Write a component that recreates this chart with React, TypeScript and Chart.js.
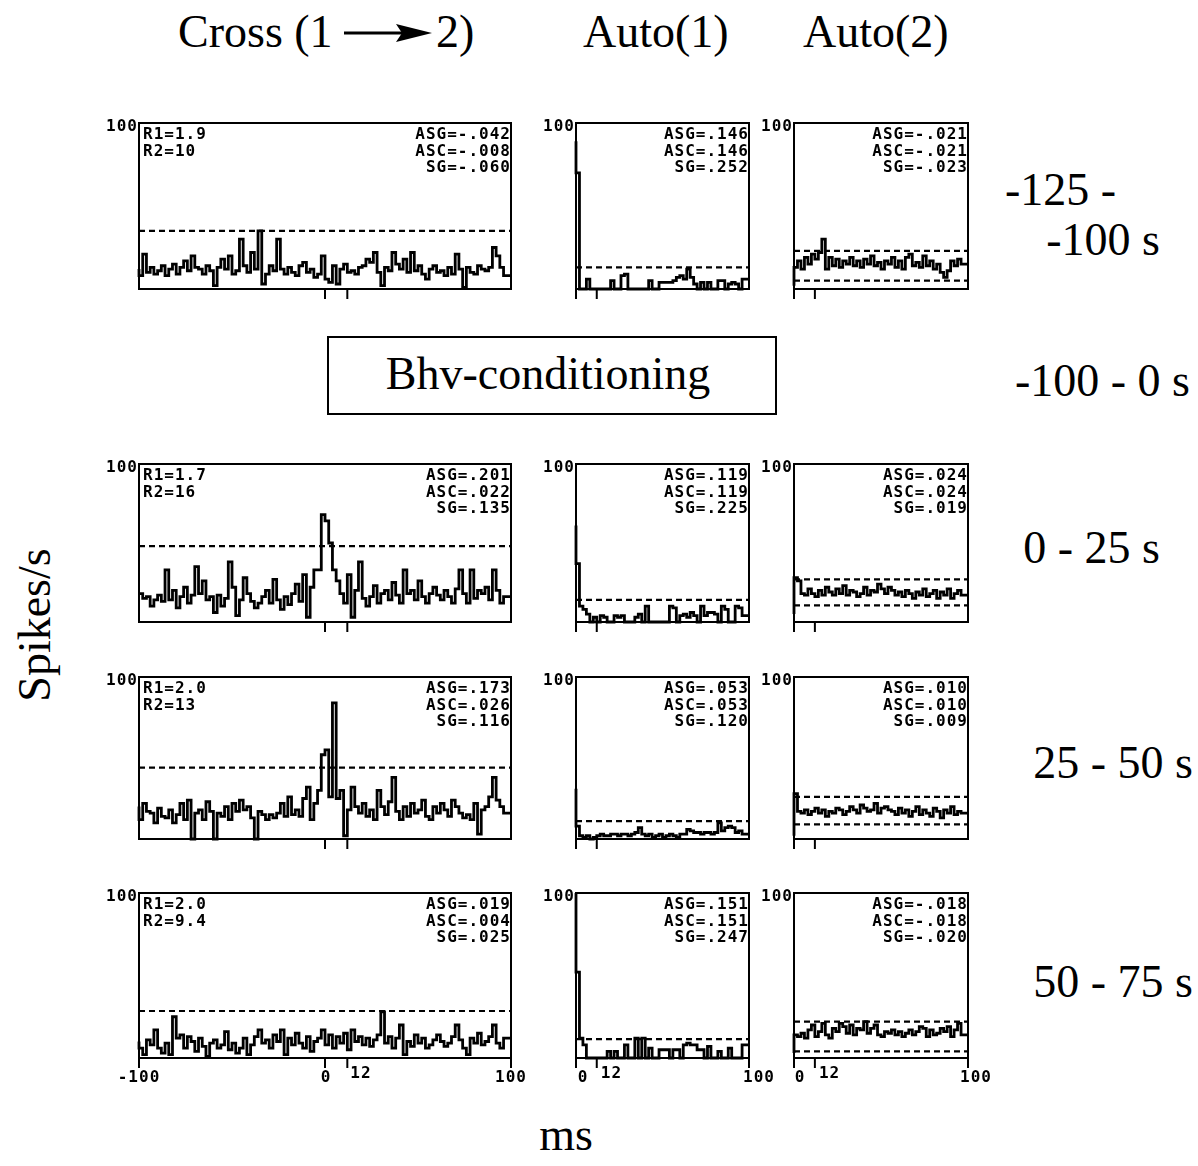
import React, { useEffect, useRef } from 'react';
import { Chart, registerables } from 'chart.js';
Chart.register(...registerables);

// ---------- data ----------
const crossX = [-100, 100];
const autoX = [0, 100];

const cross1 = [
  12, 8, 21, 10, 13, 9, 11, 14, 8, 12,
  15, 9, 13, 17, 11, 20, 13, 12, 9, 14,
  11, 2, 13, 18, 12, 20, 9, 11, 30, 14,
  10, 22, 12, 35, 3, 9, 14, 11, 30, 12,
  9, 13, 10, 8, 14, 16, 10, 12, 7, 9,
  20, 6, 4, 14, 3, 12, 15, 10, 11, 9,
  13, 14, 18, 16, 22, 10, 2, 13, 11, 22,
  15, 12, 18, 10, 22, 11, 14, 9, 6, 12,
  14, 10, 11, 8, 13, 9, 21, 12, 1, 13,
  10, 9, 14, 12, 11, 13, 25, 20, 13, 8,
];
const cross2 = [
  18, 18, 15, 16, 10, 14, 17, 13, 33, 14,
  20, 9, 16, 22, 12, 17, 35, 18, 26, 14,
  16, 6, 17, 10, 15, 38, 22, 4, 14, 28,
  18, 13, 9, 12, 16, 20, 12, 27, 14, 8,
  16, 11, 18, 24, 13, 30, 3, 22, 33, 33,
  68, 64, 50, 33, 26, 18, 12, 30, 3, 20,
  38, 15, 10, 16, 23, 12, 18, 20, 14, 25,
  17, 12, 33, 18, 20, 14, 26, 16, 12, 18,
  22, 17, 14, 20, 16, 12, 21, 33, 18, 12,
  33, 15, 20, 18, 22, 14, 33, 20, 12, 16,
];
const cross3 = [
  20, 12, 22, 17, 16, 10, 19, 14, 13, 18,
  10, 15, 22, 12, 24, 0, 16, 18, 12, 23,
  17, 0, 16, 14, 20, 12, 22, 17, 24, 18,
  20, 13, 0, 17, 15, 12, 15, 13, 16, 22,
  14, 26, 15, 18, 14, 25, 32, 12, 22, 30,
  52, 55, 26, 84, 25, 30, 2, 18, 32, 20,
  16, 22, 14, 18, 12, 30, 20, 15, 23, 38,
  17, 12, 20, 14, 22, 16, 18, 24, 14, 12,
  20, 16, 22, 18, 14, 24, 20, 16, 13, 15,
  12, 22, 3, 18, 20, 26, 38, 24, 20, 16,
];
const cross4 = [
  10, 6, 2, 11, 8, 17, 6, 3, 9, 2,
  25, 12, 14, 6, 13, 10, 4, 12, 7, 1,
  9, 11, 6, 8, 16, 5, 9, 3, 6, 12,
  2, 8, 13, 17, 9, 11, 6, 14, 10, 17,
  2, 12, 8, 15, 9, 6, 13, 4, 10, 12,
  17, 8, 14, 6, 13, 9, 15, 5, 17, 10,
  13, 8, 12, 7, 11, 14, 28, 9, 13, 6,
  12, 20, 2, 10, 7, 14, 9, 12, 6, 8,
  11, 14, 10, 7, 9, 13, 20, 11, 6, 2,
  12, 9, 15, 8, 10, 13, 20, 9, 6, 12,
];

const auto1r1 = [
  89, 70, 0, 0, 6, 0, 0, 0, 0, 0,
  0, 5, 0, 0, 8, 9, 0, 0, 0, 0,
  0, 0, 5, 0, 0, 4, 4, 4, 4, 5,
  7, 8, 6, 12, 7, 3, 0, 4, 0, 4,
  0, 0, 5, 5, 0, 3, 4, 3, 0, 6,
];
const auto1r2 = [
  61, 37, 10, 8, 5, 0, 3, 0, 4, 3,
  0, 0, 4, 3, 4, 0, 0, 0, 3, 5,
  0, 10, 0, 0, 0, 0, 0, 0, 10, 9,
  0, 4, 5, 3, 6, 4, 0, 10, 4, 6,
  6, 5, 0, 10, 8, 0, 0, 10, 9, 4,
];
const auto1r3 = [
  31, 8, 2, 1, 2, 0, 1, 2, 3, 2,
  2, 3, 3, 2, 3, 3, 2, 3, 4, 7,
  3, 2, 3, 1, 2, 3, 1, 2, 3, 2,
  1, 3, 3, 6, 5, 4, 4, 3, 4, 4,
  3, 4, 10, 5, 7, 8, 7, 4, 5, 3,
];
const auto1r4 = [
  100, 52, 12, 8, 0, 0, 0, 0, 0, 0,
  4, 0, 4, 0, 0, 8, 0, 0, 12, 0,
  12, 0, 6, 0, 0, 5, 5, 5, 0, 5,
  5, 0, 8, 9, 8, 8, 5, 5, 0, 7,
  0, 0, 4, 0, 0, 6, 0, 0, 0, 8,
];

const auto2r1 = [
  2, 13, 17, 12, 19, 15, 21, 18, 22, 30,
  12, 19, 14, 18, 13, 17, 15, 19, 14, 17,
  13, 18, 15, 20, 14, 16, 12, 17, 15, 19,
  13, 17, 12, 19, 21, 14, 16, 13, 20, 14,
  17, 12, 15, 10, 7, 11, 17, 14, 18, 15,
];
const auto2r2 = [
  5, 28, 26, 18, 17, 21, 18, 16, 20, 17,
  22, 19, 17, 21, 18, 23, 17, 20, 19, 16,
  18, 22, 17, 20, 19, 24, 21, 18, 22, 20,
  17, 19, 16, 20, 18, 15, 19, 17, 21, 16,
  18, 20, 15, 19, 17, 21, 15, 18, 20, 17,
];
const auto2r3 = [
  2, 28, 17, 16, 18, 15, 17, 19, 16, 18,
  14, 17, 16, 19, 18, 15, 17, 20, 18, 16,
  21, 19, 17, 18, 22, 16, 19, 20, 18, 17,
  15, 19, 16, 18, 14, 17, 20, 15, 18, 16,
  14, 19, 17, 13, 18, 16, 20, 15, 17, 16,
];
const auto2r4 = [
  3, 14, 13, 15, 12, 17, 20, 13, 16, 21,
  14, 12, 18, 16, 21, 19, 15, 20, 14, 18,
  17, 22, 15, 18, 20, 14, 13, 16, 15, 17,
  14, 16, 13, 15, 17, 14, 16, 19, 18, 13,
  17, 14, 15, 18, 16, 19, 13, 17, 21, 14,
];

const crossSig = [35, 48, 44, 28.5];
const auto1Sig = [13, 14, 11, 11.5];
const auto2Hi = [23, 27, 26, 22];
const auto2Lo = [5, 10.5, 9, 4];

const crossR1 = ['1.9', '1.7', '2.0', '2.0'];
const crossR2 = ['10', '16', '13', '9.4'];
const crossASG = ['-.042', '.201', '.173', '.019'];
const crossASC = ['-.008', '.022', '.026', '.004'];
const crossSG = ['-.060', '.135', '.116', '.025'];
const auto1ASG = ['.146', '.119', '.053', '.151'];
const auto1ASC = ['.146', '.119', '.053', '.151'];
const auto1SG = ['.252', '.225', '.120', '.247'];
const auto2ASG = ['-.021', '.024', '.010', '-.018'];
const auto2ASC = ['-.021', '.024', '.010', '-.018'];
const auto2SG = ['-.023', '.019', '.009', '-.020'];

const crossTicks = [0, 12];
const crossTicksBottom = [-100, 0, 12, 100];
const autoTicks = [0, 12];
const autoTicksBottom = [0, 12, 100];

const yMaxLabel = '100';
const periodLabels = ['-125 -', '-100 s', '-100 - 0 s', '0 - 25 s', '25 - 50 s', '50 - 75 s'];

// ---------- layout ----------
const rowTop = [123, 464, 677, 893];
const rowH = [166, 158, 162, 165];
const colLeft = [139, 576, 794];
const colW = [372, 173, 174];

const PL = 45, PR = 40, PT = 10, PB = 36;
const MONO = "bold 16px 'DejaVu Sans Mono', 'Liberation Mono', monospace";
const SERIF = "'Liberation Serif', 'Times New Roman', serif";

type TickLabel = { v: number; text: string; dx: number; dy: number; align: CanvasTextAlign };

type PanelProps = {
  left: number; top: number; width: number; height: number;
  xRange: number[];
  values: number[];
  sig: number[];
  leftText: string[];
  rightText: string[];
  ticks: number[];
  tickLabels: TickLabel[];
};

function Panel(p: PanelProps) {
  const ref = useRef<HTMLCanvasElement>(null);
  const cw = p.width + PL + PR;
  const ch = p.height + PT + PB;
  useEffect(() => {
    const [xMin, xMax] = p.xRange;
    const binW = (xMax - xMin) / p.values.length;
    const hist = p.values.map((v, i) => ({ x: xMin + i * binW, y: v }));
    hist.push({ x: xMax, y: p.values[p.values.length - 1] });
    const datasets: any[] = [
      {
        data: hist, stepped: 'after', borderColor: '#000', borderWidth: 2.8,
        pointRadius: 0, fill: false, clip: 2,
      },
      ...p.sig.map((s) => ({
        data: [{ x: xMin, y: s }, { x: xMax, y: s }],
        borderColor: '#000', borderWidth: 2.2, borderDash: [6, 4], pointRadius: 0, fill: false,
      })),
    ];
    const deco = {
      id: 'deco',
      afterDraw(chart: any) {
        const ctx: CanvasRenderingContext2D = chart.ctx;
        const a = chart.chartArea;
        const xs = chart.scales.x;
        ctx.save();
        ctx.strokeStyle = '#000';
        ctx.lineWidth = 2;
        ctx.strokeRect(a.left, a.top, a.right - a.left, a.bottom - a.top);
        p.ticks.forEach((t) => {
          const x = xs.getPixelForValue(t);
          ctx.beginPath();
          ctx.moveTo(x, a.bottom);
          ctx.lineTo(x, a.bottom + 10);
          ctx.stroke();
        });
        ctx.fillStyle = '#000';
        ctx.font = MONO;
        (ctx as any).letterSpacing = '1px';
        ctx.textBaseline = 'alphabetic';
        ctx.textAlign = 'right';
        ctx.fillText(yMaxLabel, a.left - 1, a.top + 8);
        const base = [16, 32.5, 49];
        ctx.textAlign = 'left';
        p.leftText.forEach((t, i) => ctx.fillText(t, a.left + 4, a.top + base[i]));
        ctx.textAlign = 'right';
        p.rightText.forEach((t, i) => ctx.fillText(t, a.right, a.top + base[i]));
        p.tickLabels.forEach((tl) => {
          ctx.textAlign = tl.align;
          ctx.fillText(tl.text, xs.getPixelForValue(tl.v) + tl.dx, a.bottom + 24 + tl.dy);
        });
        ctx.restore();
      },
    };
    const chart = new Chart(ref.current!, {
      type: 'line',
      data: { datasets },
      options: {
        animation: false,
        responsive: false,
        events: [],
        layout: { padding: { left: PL, right: PR, top: PT, bottom: PB } },
        plugins: { legend: { display: false }, tooltip: { enabled: false } },
        scales: {
          x: { type: 'linear', min: xMin, max: xMax, display: false },
          y: { min: 0, max: 100, display: false },
        },
      },
      plugins: [deco],
    } as any);
    return () => chart.destroy();
  }, []);
  return (
    <canvas
      ref={ref}
      width={cw}
      height={ch}
      style={{ position: 'absolute', left: p.left - PL, top: p.top - PT, width: cw, height: ch }}
    />
  );
}

const crossData = [cross1, cross2, cross3, cross4];
const auto1Data = [auto1r1, auto1r2, auto1r3, auto1r4];
const auto2Data = [auto2r1, auto2r2, auto2r3, auto2r4];

export default function App() {
  const panels: React.ReactNode[] = [];
  for (let r = 0; r < 4; r++) {
    const bottom = r === 3;
    panels.push(
      <Panel key={'c' + r} left={colLeft[0]} top={rowTop[r]} width={colW[0]} height={rowH[r]}
        xRange={crossX} values={crossData[r]} sig={[crossSig[r]]}
        leftText={['R1=' + crossR1[r], 'R2=' + crossR2[r]]}
        rightText={['ASG=' + crossASG[r], 'ASC=' + crossASC[r], 'SG=' + crossSG[r]]}
        ticks={bottom ? crossTicksBottom : crossTicks}
        tickLabels={bottom ? [
          { v: -100, text: '-100', dx: 0, dy: 0, align: 'center' },
          { v: 0, text: '0', dx: 1, dy: 0, align: 'center' },
          { v: 12, text: '12', dx: 3, dy: -4, align: 'left' },
          { v: 100, text: '100', dx: 0, dy: 0, align: 'center' },
        ] : []} />
    );
    panels.push(
      <Panel key={'a' + r} left={colLeft[1]} top={rowTop[r]} width={colW[1]} height={rowH[r]}
        xRange={autoX} values={auto1Data[r]} sig={[auto1Sig[r]]}
        leftText={[]}
        rightText={['ASG=' + auto1ASG[r], 'ASC=' + auto1ASC[r], 'SG=' + auto1SG[r]]}
        ticks={bottom ? autoTicksBottom : autoTicks}
        tickLabels={bottom ? [
          { v: 0, text: '0', dx: 7, dy: 0, align: 'center' },
          { v: 12, text: '12', dx: 4, dy: -4, align: 'left' },
          { v: 100, text: '100', dx: 10, dy: 0, align: 'center' },
        ] : []} />
    );
    panels.push(
      <Panel key={'b' + r} left={colLeft[2]} top={rowTop[r]} width={colW[2]} height={rowH[r]}
        xRange={autoX} values={auto2Data[r]} sig={[auto2Hi[r], auto2Lo[r]]}
        leftText={[]}
        rightText={['ASG=' + auto2ASG[r], 'ASC=' + auto2ASC[r], 'SG=' + auto2SG[r]]}
        ticks={bottom ? autoTicksBottom : autoTicks}
        tickLabels={bottom ? [
          { v: 0, text: '0', dx: 6, dy: 0, align: 'center' },
          { v: 12, text: '12', dx: 4, dy: -4, align: 'left' },
          { v: 100, text: '100', dx: 8, dy: 0, align: 'center' },
        ] : []} />
    );
  }
  const fs = 46;
  return (
    <div style={{ position: 'absolute', left: 0, top: 0, width: 1198, height: 1166, background: '#fff', overflow: 'hidden' }}>
      <svg width={1198} height={1166} style={{ position: 'absolute', left: 0, top: 0 }}
        fontFamily={SERIF} fontSize={fs} fill="#000">
        <text x={178} y={47}>Cross (1</text>
        <line x1={344} y1={33} x2={404} y2={33} stroke="#000" strokeWidth={3} />
        <polygon points="396,24 432,33 396,42 402,33" fill="#000" />
        <text x={436} y={47}>2)</text>
        <text x={583} y={47}>Auto(1)</text>
        <text x={803} y={47}>Auto(2)</text>
        <rect x={328} y={337} width={448} height={77} fill="none" stroke="#000" strokeWidth={2} />
        <text x={548} y={389} textAnchor="middle">Bhv-conditioning</text>
        <text x={1005} y={205}>{periodLabels[0]}</text>
        <text x={1160} y={255} textAnchor="end">{periodLabels[1]}</text>
        <text x={1190} y={396} textAnchor="end">{periodLabels[2]}</text>
        <text x={1160} y={563} textAnchor="end">{periodLabels[3]}</text>
        <text x={1193} y={778} textAnchor="end">{periodLabels[4]}</text>
        <text x={1193} y={997} textAnchor="end">{periodLabels[5]}</text>
        <text transform="translate(50,625) rotate(-90)" textAnchor="middle">Spikes/s</text>
        <text x={566} y={1150} textAnchor="middle">ms</text>
      </svg>
      {panels}
    </div>
  );
}
